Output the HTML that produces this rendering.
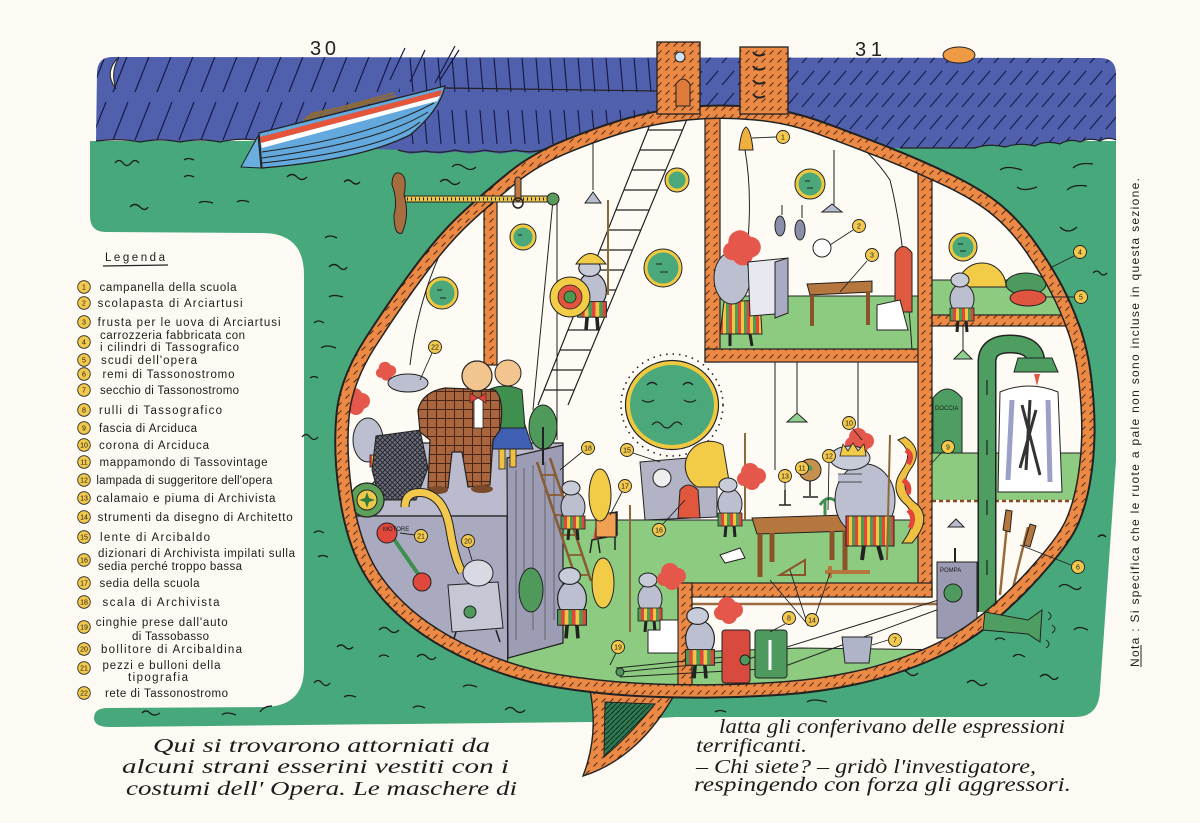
<!DOCTYPE html>
<html><head><meta charset="utf-8">
<style>
html,body{margin:0;padding:0;background:#fcfaf3;}
svg{display:block}
.lg{font-family:"Liberation Sans",sans-serif;font-size:11.5px;fill:#1c1c1c}
.cur{font-family:"Liberation Serif",serif;font-style:italic;font-size:20.5px;fill:#1c1c1c}
.num{font-family:"Liberation Sans",sans-serif;font-size:7px;fill:#1c1c1c;text-anchor:middle}
.tiny{font-family:"Liberation Sans",sans-serif;font-size:6px;fill:#1c1c1c}
</style></head><body>
<svg width="1200" height="823" viewBox="0 0 1200 823" xmlns="http://www.w3.org/2000/svg">
<defs>
<path id="hull" d="M336.5,414 Q340,378 365,339 Q390,300 415,266.5 Q440,233 463.5,211.5 Q487,190 510,171.5 Q533,153 566.5,139.5 Q600,126 628.5,118 Q657,110 688.5,107 Q720,104 754,107 Q788,110 816.5,120 Q845,130 883,145 Q921,160 952,175 Q983,190 1002,206 Q1021,222 1036.5,244.5 Q1052,267 1062,286 Q1072,305 1080,327.5 Q1088,350 1091.5,380 Q1095,410 1094.5,435 Q1094,460 1090,482.5 Q1086,505 1079,522 Q1072,540 1047.5,568 Q1023,597 993,622 Q963,647 926.5,662 Q890,677 855,684.5 Q820,692 785,694.5 Q750,697 713.5,697.5 Q677,698 637,696 Q597,694 555,687 Q513,680 471.5,661.5 Q430,643 401.5,618 Q373,593 359,564 Q345,535 339,492.5 Q333,450 336.5,414 Z"/>
<clipPath id="hc"><path d="M336.5,414 Q340,378 365,339 Q390,300 415,266.5 Q440,233 463.5,211.5 Q487,190 510,171.5 Q533,153 566.5,139.5 Q600,126 628.5,118 Q657,110 688.5,107 Q720,104 754,107 Q788,110 816.5,120 Q845,130 883,145 Q921,160 952,175 Q983,190 1002,206 Q1021,222 1036.5,244.5 Q1052,267 1062,286 Q1072,305 1080,327.5 Q1088,350 1091.5,380 Q1095,410 1094.5,435 Q1094,460 1090,482.5 Q1086,505 1079,522 Q1072,540 1047.5,568 Q1023,597 993,622 Q963,647 926.5,662 Q890,677 855,684.5 Q820,692 785,694.5 Q750,697 713.5,697.5 Q677,698 637,696 Q597,694 555,687 Q513,680 471.5,661.5 Q430,643 401.5,618 Q373,593 359,564 Q345,535 339,492.5 Q333,450 336.5,414 Z"/></clipPath>
<clipPath id="sc"><path d="M97,72 Q98,57 112,57 L1100,58 Q1116,58 1116,74 L1116,140 Q1108,136 1100,141 Q1090,137 1080,142 Q1070,138 1060,144 Q1045,140 1035,146 Q1020,142 1005,147 Q990,143 975,148 L900,148 L560,153 Q545,149 530,154 Q515,150 500,154 Q485,150 470,154 Q455,150 440,154 Q425,151 410,154 L398,150 L300,146 L262,141 Q240,137 220,142 Q200,138 180,142 Q160,138 140,142 Q120,138 96,141 Z"/></clipPath>
<pattern id="hp" width="8" height="8" patternUnits="userSpaceOnUse"><rect width="8" height="8" fill="#ec8a45"/><path d="M1.5,6.5 L5.5,2.5" stroke="#4a2a15" stroke-width="1"/></pattern>
<pattern id="r1" width="22" height="48" patternUnits="userSpaceOnUse"><path d="M3,44 L18,6" stroke="#161a45" stroke-width="1.2"/></pattern>
<pattern id="r2" width="14" height="52" patternUnits="userSpaceOnUse"><path d="M4,6 L7,40" stroke="#161a45" stroke-width="1.2"/></pattern>
<pattern id="r3" width="16" height="22" patternUnits="userSpaceOnUse"><path d="M2,19 L14,5" stroke="#161a45" stroke-width="1.1"/></pattern>
<pattern id="pl" width="9" height="9" patternUnits="userSpaceOnUse"><rect width="9" height="9" fill="#a9653d"/><path d="M0,4.5 H9 M4.5,0 V9" stroke="#4a2414" stroke-width="1"/></pattern>
<pattern id="nt" width="5" height="5" patternUnits="userSpaceOnUse"><rect width="5" height="5" fill="#6b6d80"/><path d="M0,0 L5,5 M5,0 L0,5" stroke="#222" stroke-width="0.9"/></pattern>
<pattern id="sk" width="9" height="20" patternUnits="userSpaceOnUse"><rect width="3" height="20" fill="#e0473a"/><rect x="3" width="3" height="20" fill="#f2c640"/><rect x="6" width="3" height="20" fill="#4d9b52"/></pattern>
<pattern id="kg" width="5" height="5" patternUnits="userSpaceOnUse"><rect width="5" height="5" fill="#2f7a52"/><path d="M0,5 L5,0" stroke="#10301f" stroke-width="1"/></pattern>
<g id="kn">
<path d="M-4,20 L-5,32 M4,20 L5,32" stroke="#222" stroke-width="3"/>
<ellipse cx="0" cy="-1" rx="12" ry="15" fill="#bcbfcf" stroke="#222" stroke-width="1"/>
<rect x="-12" y="8" width="24" height="13" fill="url(#sk)" stroke="#222" stroke-width="0.8"/>
<ellipse cx="-2" cy="-20" rx="9" ry="7" fill="#c8cbd8" stroke="#222" stroke-width="1"/>
</g>
<g id="rh" fill="#e5574a"><circle cx="0" cy="0" r="9"/><circle cx="8" cy="4" r="8"/><circle cx="2" cy="10" r="8"/><circle cx="-6" cy="7" r="7"/></g>
</defs>

<rect width="1200" height="823" fill="#fcfaf3"/>

<!-- water -->
<path d="M90,141 L1116,141 L1116,460 L1100,690 Q1099,717 1075,717 L676,717 L593,722 L110,727 Q94,727 94,718 Q94,708 108,708 L265,707 Q304,706 304,668 L304,275 Q304,233 262,233 L106,232 Q90,232 90,216 Z" fill="#47a97b"/>

<!-- sky -->
<g clip-path="url(#sc)">
<rect x="90" y="50" width="1030" height="110" fill="#5160ad"/>
<rect x="90" y="50" width="310" height="110" fill="url(#r1)"/>
<rect x="400" y="50" width="300" height="110" fill="url(#r2)"/>
<rect x="700" y="50" width="420" height="110" fill="url(#r3)"/>
</g>
<path d="M96,141 Q120,138 140,142 Q160,138 180,142 Q200,138 220,142 Q240,137 262,141 M398,150 Q410,154 425,151 Q440,154 455,150 Q470,154 485,150 Q500,154 515,150 Q530,154 545,149 Q555,152 565,152 M900,148 L975,148 Q990,143 1005,147 Q1020,142 1035,146 Q1045,140 1060,144 Q1070,138 1080,142 Q1090,137 1100,141 Q1108,136 1116,140" fill="none" stroke="#222" stroke-width="1.2"/>
<path d="M390,80 L405,48 M410,82 L425,50 M435,83 L455,46 M440,80 L459,50" stroke="#161a45" stroke-width="1.2"/>
<!-- moon, sun -->
<path d="M119,57 Q103,72 116,89 Q110,72 119,57 Z" fill="#fcfaf3" stroke="#222" stroke-width="1"/>
<ellipse cx="959" cy="55" rx="16" ry="8" fill="#ef9a45" stroke="#222" stroke-width="1"/>

<!-- waves -->
<g fill="none" stroke="#1c1c1c" stroke-width="1.3">
<path d="M115,163 q4,-5 8,0 t8,0 t8,0"/><path d="M184,160 q4,-3 10,0"/><path d="M184,177 q4,-3 10,0"/><path d="M287,177 q5,-5 10,0 t10,0"/>
<path d="M344,182 q4,-4 8,0 t8,0"/><path d="M130,207 q5,-5 10,0 t8,0"/><path d="M199,203 q4,-3 14,0"/><path d="M237,202 q4,-3 12,0"/>
<path d="M325,238 q4,-4 12,0"/><path d="M329,267 q5,-5 10,0 t8,0"/><path d="M329,297 q4,-3 14,0"/><path d="M314,323 q4,-4 10,0"/>
<path d="M321,348 q5,-4 15,0"/><path d="M310,378 q4,-3 8,0"/><path d="M440,182 q5,-5 10,0 t10,0"/><path d="M452,167 q5,-5 12,0 t12,0"/>
<path d="M302,437 q4,-5 8,0 t8,0"/><path d="M314,533 q4,-4 10,0"/><path d="M318,557 q4,-3 10,0"/><path d="M379,630 q5,-5 10,0 t10,0"/>
<path d="M337,647 q4,-4 8,0 t8,0"/><path d="M379,657 q4,-4 10,0"/><path d="M417,657 q5,-5 10,0 t9,0"/><path d="M314,683 q4,-5 8,0 t8,0"/>
<path d="M344,697 q4,-3 12,0"/><path d="M463,687 q4,-4 14,0"/><path d="M413,708 q4,-4 12,0"/><path d="M505,710 q5,-5 10,0 t10,0"/>
<path d="M142,713 q4,-4 8,0 t10,0"/><path d="M222,715 q4,-4 14,0"/><path d="M260,712 q4,-6 12,-6"/><path d="M898,673 q5,-5 10,0 t10,0"/>
<path d="M967,683 q5,-5 10,0 t10,0"/><path d="M1040,677 q5,-5 10,0 t8,0"/><path d="M1074,630 q4,-5 14,0"/><path d="M995,640 q4,-4 10,0"/>
<path d="M807,702 q5,-4 20,0"/><path d="M715,712 q4,-3 11,0"/><path d="M1013,657 q4,-5 12,0"/><path d="M1059,587 q5,-5 12,0 t10,0"/>
<path d="M1000,170 q6,-5 22,0"/><path d="M1017,187 q6,5 20,0"/><path d="M1073,168 q6,-6 20,-4"/><path d="M1067,190 q6,-6 20,-4"/>
<path d="M1060,227 q8,8 17,0"/><path d="M1093,273 q4,-4 7,0 t7,0"/><path d="M1098,537 q4,-4 8,0"/>
</g>

<!-- boat -->
<path d="M241,167 L258,136 L261,168 Z" fill="#6aaee0" stroke="#222" stroke-width="1"/>
<path d="M259,133 L445,86 Q440,110 410,135 Q360,160 262,168 Z" fill="#63a9dd" stroke="#222" stroke-width="1.3"/>
<path d="M260,137 L442,90 L440,96 L261,143 Z" fill="#e5553a"/>
<path d="M261,143 L440,96 L437,101 L262,148 Z" fill="#ffffff"/>
<path d="M262,152 Q370,137 434,103 M262,158 Q380,142 428,112 M262,163 Q385,150 420,122" fill="none" stroke="#222" stroke-width="1"/>
<path d="M306,117 L394,93 M310,114 L396,96 M303,120 L388,98" stroke="#8a6a3a" stroke-width="2"/>
<path d="M445,88 L657,91" stroke="#222" stroke-width="1.2"/>

<!-- keel -->
<path d="M590,690 Q599,735 583,776 Q640,758 677,690 Z" fill="url(#hp)" stroke="#222" stroke-width="1.4"/>
<path d="M605,702 L655,704 Q630,735 604,757 Z" fill="url(#kg)" stroke="#222" stroke-width="1"/>

<!-- hull interior -->
<use href="#hull" fill="#fdfbf4"/>
<g clip-path="url(#hc)">
<path d="M330,522 L417,443 L563,443 L563,516 L330,516 Z" fill="#bbbbcd" stroke="#222" stroke-width="1.2"/>
<path d="M320,516 L507,516 L508,720 L320,720 Z" fill="#a9a9bf" stroke="#222" stroke-width="1.2"/>
<path d="M563,520 L918,520 L918,590 L680,590 L680,720 L500,720 L508,658 L563,643 Z" fill="#8dcb80" stroke="#222" stroke-width="1"/>
<path d="M507,458 L563,445 L563,643 L508,658 Z" fill="#9c9cb5" stroke="#222" stroke-width="1.2"/>
<path d="M516,470 L516,640 M524,468 L524,600 M533,465 L533,630 M545,462 L545,640 M554,470 L554,620" stroke="#555" stroke-width="0.8"/>
<rect x="718" y="296" width="202" height="56" fill="#8dcb80"/>
<rect x="930" y="280" width="170" height="37" fill="#8dcb80"/>
<rect x="930" y="453" width="170" height="47" fill="#8dcb80"/>
<path d="M690,652 L800,648 L960,650 L960,720 L690,720 Z" fill="#8dcb80"/>
<path d="M720,296 H918 M932,280 H1100 M932,453 H1100 M692,652 L800,648 L960,650" stroke="#222" stroke-width="1" fill="none"/>
<path d="M932,501 H1100" stroke="#8a4a20" stroke-width="2.5" stroke-dasharray="4 3"/>
<path d="M692,604 H940" stroke="#9a6a40" stroke-width="2.5"/>
<g fill="url(#hp)" stroke="#222" stroke-width="1.2">
<rect x="705" y="95" width="15" height="267"/>
<rect x="705" y="349" width="227" height="13"/>
<rect x="918" y="140" width="14" height="457"/>
<rect x="932" y="315" width="170" height="11"/>
<rect x="678" y="583" width="254" height="14"/>
<rect x="678" y="583" width="14" height="130"/>
<rect x="484" y="195" width="13" height="170"/>
</g>

<g stroke-width="3" stroke="#f0c93f" fill="#4aa87a">
<circle cx="523" cy="237" r="11"/><circle cx="442" cy="293" r="14"/><circle cx="663" cy="268" r="17"/>
<circle cx="677" cy="180" r="10"/><circle cx="810" cy="184" r="13"/><circle cx="963" cy="247" r="12"/>
</g>
<g fill="none" stroke="#222" stroke-width="1">
<circle cx="523" cy="237" r="13"/><circle cx="442" cy="293" r="16"/><circle cx="663" cy="268" r="19"/>
<circle cx="677" cy="180" r="12"/><circle cx="810" cy="184" r="15"/><circle cx="963" cy="247" r="14"/>
<path d="M518,235 h4 M437,290 h5 M440,298 h6 M656,264 h6 M660,272 h8 M805,181 h5 M807,188 h6 M958,244 h5 M960,251 h6"/>
</g>
<circle cx="672" cy="405" r="51" fill="none" stroke="#222" stroke-width="1.6" stroke-dasharray="1.5 5"/>
<ellipse cx="672" cy="405" rx="44" ry="42" fill="#4aa87a" stroke="#f0c93f" stroke-width="4"/>
<ellipse cx="672" cy="405" rx="46.5" ry="44.5" fill="none" stroke="#222" stroke-width="1.2"/>
<path d="M647,385 q5,-5 10,0 M683,385 q5,-5 10,0 M642,400 q6,4 12,0 M684,400 q6,4 12,0 M652,425 q5,-6 10,0 t10,0 t10,0" fill="none" stroke="#222" stroke-width="1.3"/>

<g stroke="#222" stroke-width="1.2" fill="none">
<path d="M655,112 L538,405 M690,112 L568,405"/>
<path d="M647.8,130 H682.5 M639.8,150 H674.2 M631.8,170 H665.8 M623.9,190 H657.5 M615.9,210 H649.2 M607.9,230 H640.9 M599.9,250 H632.5 M591.9,270 H624.2 M583.9,290 H615.9 M575.9,310 H607.5 M567.9,330 H599.2 M560,350 H590.9 M552,370 H582.6 M544,390 H574.2"/>
</g>
<g stroke="#222" stroke-width="1" fill="none">
<path d="M553,200 L533,410 M557,202 L557,440 M463,210 Q420,280 410,365"/>
<path d="M593,140 V190 M834,150 V205 M745,150 Q752,190 748,240 M830,120 Q870,150 890,180 Q905,240 912,350"/>
<path d="M775,362 V470 M858,362 V455 M797,362 V413 M963,326 V350"/>
<path d="M620,672 L745,660 L945,598 M620,677 L780,668 L950,605 M616,668 L745,655"/>
</g>
<g stroke="#222" stroke-width="1">
<path d="M585,203 L593,192 L601,203 Z" fill="#b8bccf"/>
<path d="M822,212 L832,204 L842,212 Z" fill="#b8bccf"/>
<path d="M787,422 L797,413 L807,422 Z" fill="#8fcf90"/>
<path d="M954,359 L963,350 L972,359 Z" fill="#8fcf90"/>
<path d="M948,527 L956,519 L964,527 Z" fill="#b8bccf"/>
</g>

<use href="#rh" transform="translate(354,397)"/>
<use href="#rh" transform="translate(385,368) scale(0.7)"/>
<ellipse cx="408" cy="383" rx="20" ry="9" fill="#bcbfcf" stroke="#222" stroke-width="1"/>
<ellipse cx="368" cy="440" rx="15" ry="22" fill="#bcbfcf" stroke="#222" stroke-width="1"/>
<rect x="370" y="455" width="24" height="12" fill="url(#sk)" stroke="#222" stroke-width="0.8"/>
<path d="M376,436 L420,430 L428,468 L416,500 L380,500 L372,470 Z" fill="url(#nt)" stroke="#222" stroke-width="1"/>
<circle cx="367" cy="500" r="17" fill="#5da05a" stroke="#222" stroke-width="1.2"/>
<circle cx="367" cy="500" r="10" fill="#ecc94a" stroke="#222" stroke-width="1"/>
<path d="M367,492 L369,498 L375,500 L369,502 L367,508 L365,502 L359,500 L365,498 Z" fill="#2f7a3e"/>
<rect x="499" y="447" width="6" height="22" fill="#f0c040" stroke="#222" stroke-width="0.8"/>
<rect x="510" y="447" width="6" height="20" fill="#f0c040" stroke="#222" stroke-width="0.8"/>
<path d="M490,425 L525,425 L533,449 L484,449 Z" fill="#3e5fb2" stroke="#222"/>
<path d="M488,390 Q505,382 522,390 L525,428 L490,428 Z" fill="#3f8f4f" stroke="#222"/>
<circle cx="508" cy="373" r="13" fill="#f3c58e" stroke="#222"/>
<path d="M418,410 Q422,392 445,388 L495,390 Q505,400 500,430 L493,440 L490,485 L468,487 L462,452 L452,452 L448,488 L428,488 L430,440 L420,432 Z" fill="url(#pl)" stroke="#222" stroke-width="1.2"/>
<rect x="474" y="398" width="9" height="30" fill="#fff" stroke="#222" stroke-width="0.8"/>
<path d="M470,393 L478,398 L470,403 Z M486,393 L478,398 L486,403 Z" fill="#e0403a" stroke="#222" stroke-width="0.6"/>
<circle cx="477" cy="376" r="15" fill="#f3c58e" stroke="#222" stroke-width="1.2"/>
<ellipse cx="438" cy="490" rx="10" ry="4" fill="#7a4a2a"/><ellipse cx="482" cy="489" rx="11" ry="4" fill="#7a4a2a"/>
<ellipse cx="543" cy="427" rx="14" ry="22" fill="#4f9a5a" stroke="#222"/>
<path d="M543,427 V465" stroke="#222" stroke-width="2"/>
<ellipse cx="531" cy="590" rx="12" ry="22" fill="#4f9a5a" stroke="#222"/>
<path d="M405,507 Q405,490 425,493 Q445,498 450,530 Q455,560 462,572" fill="none" stroke="#222" stroke-width="9"/>
<path d="M405,507 Q405,490 425,493 Q445,498 450,530 Q455,560 462,572" fill="none" stroke="#f2c94c" stroke-width="7"/>
<path d="M389,532 L423,581" stroke="#3f8f4f" stroke-width="4"/>
<circle cx="387" cy="533" r="10" fill="#e0483e" stroke="#222"/><circle cx="422" cy="582" r="9" fill="#e0483e" stroke="#222"/>
<text class="tiny" x="383" y="531">MOTORE</text>
<path d="M448,585 L498,582 L503,628 L452,632 Z" fill="#c5c7d4" stroke="#222"/>
<path d="M456,632 L452,645 M496,630 L500,642" stroke="#222" stroke-width="1.5"/>
<ellipse cx="478" cy="573" rx="15" ry="13" fill="#d7d9e3" stroke="#222"/>
<circle cx="470" cy="612" r="6" fill="#4f9a5a" stroke="#222"/>
<use href="#kn" transform="translate(592,292) scale(1.2)"/>
<path d="M576,264 Q590,243 606,264 Z" fill="#f2cb47" stroke="#222"/>
<path d="M608,200 V295" stroke="#8a6a3a" stroke-width="2"/>
<circle cx="570" cy="297" r="20" fill="#f2cd45" stroke="#222"/>
<circle cx="570" cy="297" r="12" fill="#e2543d" stroke="#222" stroke-width="0.8"/>
<circle cx="570" cy="297" r="6" fill="#4a9a50" stroke="#222" stroke-width="0.8"/>
<g stroke="#8a5a30" stroke-width="2.5">
<path d="M537,462 L578,585 M550,458 L591,581"/>
<path d="M541.3,475 H555.7 M548,495 H562.3 M554.7,515 H569 M561.3,535 H575.7 M568,555 H582.3 M574.7,575 H589" stroke-width="1.8"/>
</g>
<path d="M640,462 L700,457 L717,470 L717,517 L645,520 Z" fill="#b3b3c6" stroke="#222"/>
<circle cx="662" cy="478" r="9" fill="#eee" stroke="#222"/>
<path d="M697,487 A24,24 0 0 1 723,445 L730,487 Z" fill="#f2cb47" stroke="#222"/>
<path d="M598,515 L617,512 L617,535 L592,540 L590,553 M598,540 L600,553 M615,535 L615,550" fill="#e0573e" stroke="#222" stroke-width="1.5"/>
<rect x="596" y="513" width="20" height="24" fill="#f0a050" stroke="#222"/>
<path d="M680,490 Q688,480 698,490 L700,518 L678,518 Z" fill="#e0573e" stroke="#222"/>
<use href="#kn" transform="translate(573,508)"/>
<ellipse cx="600" cy="495" rx="11" ry="26" fill="#f2cb47" stroke="#222"/>
<use href="#kn" transform="translate(572,600) scale(1.2)"/>
<ellipse cx="603" cy="583" rx="11" ry="25" fill="#f2cb47" stroke="#222"/>
<use href="#kn" transform="translate(650,600)"/>
<use href="#rh" transform="translate(670,572)"/>
<path d="M630,505 V632 M745,433 V520" stroke="#8a6a3a" stroke-width="2"/>
<use href="#kn" transform="translate(730,505)"/>
<use href="#rh" transform="translate(750,472)"/>
<use href="#kn" transform="translate(700,640) scale(1.2)"/>
<use href="#rh" transform="translate(727,606)"/>
<rect x="722" y="630" width="28" height="53" rx="3" fill="#d84a3e" stroke="#222"/>
<rect x="755" y="630" width="32" height="48" rx="3" fill="#4e9a5e" stroke="#222"/>
<path d="M770,640 V670" stroke="#fff" stroke-width="3"/>
<path d="M842,637 L872,637 L869,663 L845,663 Z" fill="#b0b4c8" stroke="#222"/>
<circle cx="745" cy="660" r="5" fill="#4e9a5e" stroke="#222"/><circle cx="620" cy="672" r="4" fill="#4e9a5e" stroke="#222"/>
<path d="M648,653 L648,630 L660,630 L660,620 L678,620 L678,653 Z" fill="#fff" stroke="#222"/>
<path d="M752,518 L845,515 L850,531 L757,534 Z" fill="#b5773d" stroke="#222"/>
<path d="M760,534 V577 M845,531 V572 M772,533 V562 M832,531 V560" stroke="#8a5428" stroke-width="5"/>
<circle cx="810" cy="470" r="11" fill="#c8904e" stroke="#222"/>
<path d="M805,466 q5,-4 8,3 q-3,5 -8,-3" fill="#4e9a5e"/>
<path d="M810,481 V496 M803,497 H818" stroke="#222" stroke-width="1.5"/>
<path d="M820,505 q8,-12 18,-2 M825,500 V515" stroke="#3f8f4f" stroke-width="3" fill="none"/>
<path d="M785,490 V505 M779,505 H791" stroke="#222" stroke-width="1.5"/>
<path d="M780,575 L805,560 L805,575 Z" fill="none" stroke="#8a5428" stroke-width="2"/>
<path d="M825,572 H870 M830,566 V578" stroke="#b5773d" stroke-width="4"/>
<path d="M720,555 L740,548 L745,558 L725,563 Z" fill="#fff" stroke="#222"/>
<path d="M864,545 L862,560 M878,545 L882,560" stroke="#222" stroke-width="4"/>
<ellipse cx="865" cy="500" rx="30" ry="36" fill="#bcbfcf" stroke="#222"/>
<rect x="846" y="516" width="48" height="30" fill="url(#sk)" stroke="#222"/>
<path d="M838,478 H862" stroke="#bcbfcf" stroke-width="7"/>
<path d="M838,474 H862 M838,482 H862" stroke="#222" stroke-width="0.8"/>
<use href="#rh" transform="translate(858,437)"/>
<ellipse cx="850" cy="458" rx="20" ry="12" fill="#c8cbd8" stroke="#222"/>
<path d="M840,456 L843,444 L848,451 L853,443 L858,451 L864,444 L866,456 Z" fill="#f2cb47" stroke="#222" stroke-width="0.8"/>
<path d="M890,435 L887,560" stroke="#8a6a3a" stroke-width="2"/>
<path d="M905,437 Q925,450 910,470 Q897,490 918,505 Q932,520 912,543 L902,543 Q920,520 906,505 Q888,490 902,470 Q915,452 898,440 Z" fill="#f0c040" stroke="#222"/>
<path d="M906,450 q8,5 2,14 M903,480 q8,5 5,14 M908,510 q8,6 2,18" stroke="#e0473a" stroke-width="5" fill="none"/>
<path d="M724,302 L760,300 L762,334 L720,334 Z" fill="url(#sk)" stroke="#222"/>
<path d="M730,334 L730,346 M750,334 L752,346" stroke="#222" stroke-width="3"/>
<ellipse cx="732" cy="278" rx="18" ry="26" fill="#bcbfcf" stroke="#222"/>
<use href="#rh" transform="translate(740,242) scale(1.3)"/>
<path d="M748,262 L788,258 L788,313 L750,316 Z" fill="#e8e8f0" stroke="#222"/>
<path d="M775,262 L788,258 L788,313 L775,318 Z" fill="#a9abc2" stroke="#222"/>
<ellipse cx="780" cy="226" rx="5" ry="10" fill="#8a8ea8" stroke="#222"/><ellipse cx="800" cy="230" rx="5" ry="10" fill="#8a8ea8" stroke="#222"/>
<path d="M782,215 V205 M802,218 V205" stroke="#222"/>
<circle cx="822" cy="248" r="9" fill="#fff" stroke="#222"/>
<path d="M807,284 L872,281 L872,292 L810,295 Z" fill="#b5773d" stroke="#222"/>
<path d="M812,295 V326 M868,292 V325" stroke="#8a5428" stroke-width="4"/>
<path d="M895,312 L895,253 Q903,240 912,253 L912,312 Z" fill="#e05a40" stroke="#222"/>
<path d="M877,330 L877,305 L900,300 L908,330 Z" fill="#fff" stroke="#222"/>
<path d="M739,150 Q741,130 746,127 Q751,130 753,150 Z" fill="#f0b040" stroke="#222"/>
<path d="M958,287 A24,24 0 0 1 1006,287 Z" fill="#f2cb47" stroke="#222"/>
<ellipse cx="1026" cy="284" rx="20" ry="11" fill="#4e9a5e" stroke="#222"/>
<ellipse cx="1028" cy="298" rx="18" ry="8" fill="#e0553e" stroke="#222"/>
<use href="#kn" transform="translate(962,300)"/>
<path d="M933,453 L933,398 Q947,380 962,398 L962,453 Z" fill="#4e9e62" stroke="#222"/>
<text class="tiny" x="935" y="410" font-size="5">DOCCIA</text>
<path d="M1000,392 Q1029,380 1058,392 L1062,492 L998,492 Z" fill="#fff" stroke="#222"/>
<path d="M1012,400 L1008,480 M1048,400 L1050,482" stroke="#9aa0c6" stroke-width="5"/>
<path d="M1022,405 L1040,475 M1030,400 L1026,470 M1036,410 L1020,468" stroke="#333" stroke-width="3"/>
<path d="M1034,374 L1040,374 L1037,386 Z" fill="#e05a40"/>
<rect x="937" y="562" width="40" height="76" fill="#9a9ab2" stroke="#222"/>
<text class="tiny" x="940" y="572" font-size="5">POMPA</text>
<circle cx="953" cy="593" r="9" fill="#4e9a5e" stroke="#222"/>
<path d="M955,562 V548" stroke="#222" stroke-width="2"/>
<path d="M987,612 L987,362 Q987,344 1010,344 Q1035,344 1036,362" fill="none" stroke="#222" stroke-width="19"/>
<path d="M987,612 L987,362 Q987,344 1010,344 Q1035,344 1036,362" fill="none" stroke="#4e9e62" stroke-width="16"/>
<path d="M1018,358 L1052,358 L1058,372 L1014,372 Z" fill="#4e9e62" stroke="#222"/>
<path d="M987,380 V395 M987,440 V455 M987,500 V515 M987,560 V575" stroke="#222" stroke-width="1.2"/>
<path d="M1000,595 L1008,515 M1012,592 L1028,527" stroke="#9a6a3a" stroke-width="2.5"/>
<path d="M1003,530 L1006,510 L1012,511 L1010,532 Z M1024,545 L1030,524 L1036,526 L1030,547 Z" fill="#b5773d" stroke="#222"/>
</g>

<!-- hull band -->
<g clip-path="url(#hc)">
<use href="#hull" fill="none" stroke="#222" stroke-width="27"/>
<use href="#hull" fill="none" stroke="url(#hp)" stroke-width="24"/>
</g>
<use href="#hull" fill="none" stroke="#222" stroke-width="2"/>

<path d="M985,612 L1028,620 L1042,610 L1040,642 L1028,634 L983,630 Z" fill="#4e9e62" stroke="#222"/>
<path d="M1048,612 q6,4 0,8 M1052,625 q6,4 0,8 M1046,640 q6,4 0,8" stroke="#222" fill="none"/>

<rect x="657" y="42" width="43" height="72" fill="url(#hp)" stroke="#222" stroke-width="1.3"/>
<path d="M676,106 L676,84 Q683,74 690,84 L690,106 Z" fill="#e07a3a" stroke="#222"/>
<circle cx="680" cy="57" r="5" fill="#cfe0f0" stroke="#222"/>
<rect x="740" y="47" width="48" height="67" fill="url(#hp)" stroke="#222" stroke-width="1.3"/>
<path d="M753,52 q4,6 12,2 M753,66 q4,6 12,2 M753,80 q4,6 12,2 M753,94 q4,6 12,2" stroke="#222" stroke-width="2" fill="none"/>

<rect x="405" y="196" width="148" height="6" fill="#f0c94a" stroke="#222"/>
<path d="M407,199 H550" stroke="#222" stroke-width="3" stroke-dasharray="1 3"/>
<circle cx="553" cy="199" r="6" fill="#5a9a5a" stroke="#222"/>
<path d="M399,173 Q408,175 404,195 Q410,215 402,233 Q394,236 394,215 Q398,200 392,185 Q392,172 399,173 Z" fill="#a86d3e" stroke="#222"/>
<rect x="515" y="177" width="6" height="24" rx="3" fill="#c07840" stroke="#222"/>
<circle cx="518" cy="203" r="5" fill="none" stroke="#222" stroke-width="1.5"/>

<g stroke="#222" stroke-width="0.9" fill="none">
<path d="M776,137 L752,138 M853,230 L830,245 M867,261 L840,292 M1074,256 L1050,268 M1074,297 L1045,297 M1071,565 L1020,545 M888,640 L872,645 M785,624 L770,632 M942,452 L930,465 M853,429 L862,440 M829,462 L828,510 M785,482 L785,492 M808,626 L790,570 M812,626 L830,573 M809,626 L770,580 M633,453 L660,462 M663,524 L685,500 M622,492 L610,515 M582,452 L560,470 M616,653 L610,665 M468,547 L472,560 M415,535 L400,533 M432,353 L420,380"/>
</g>
<g fill="#f2c94c" stroke="#222" stroke-width="0.9">
<circle cx="783" cy="137" r="6.5"/><circle cx="859" cy="226" r="6.5"/><circle cx="872" cy="255" r="6.5"/><circle cx="1080" cy="252" r="6.5"/><circle cx="1081" cy="297" r="6.5"/>
<circle cx="1078" cy="567" r="6.5"/><circle cx="895" cy="640" r="6.5"/><circle cx="789" cy="618" r="6.5"/><circle cx="948" cy="447" r="6.5"/><circle cx="849" cy="423" r="6.5"/>
<circle cx="802" cy="468" r="6.5"/><circle cx="829" cy="456" r="6.5"/><circle cx="785" cy="476" r="6.5"/><circle cx="812" cy="620" r="6.5"/><circle cx="627" cy="450" r="6.5"/>
<circle cx="659" cy="530" r="6.5"/><circle cx="625" cy="486" r="6.5"/><circle cx="588" cy="448" r="6.5"/><circle cx="618" cy="647" r="6.5"/><circle cx="468" cy="541" r="6.5"/>
<circle cx="421" cy="536" r="6.5"/><circle cx="435" cy="347" r="6.5"/>
</g>
<g>
<text class="num" x="783" y="139.5">1</text><text class="num" x="859" y="228.5">2</text><text class="num" x="872" y="257.5">3</text><text class="num" x="1080" y="254.5">4</text><text class="num" x="1081" y="299.5">5</text>
<text class="num" x="1078" y="569.5">6</text><text class="num" x="895" y="642.5">7</text><text class="num" x="789" y="620.5">8</text><text class="num" x="948" y="449.5">9</text><text class="num" x="849" y="425.5">10</text>
<text class="num" x="802" y="470.5">11</text><text class="num" x="829" y="458.5">12</text><text class="num" x="785" y="478.5">13</text><text class="num" x="812" y="622.5">14</text><text class="num" x="627" y="452.5">15</text>
<text class="num" x="659" y="532.5">16</text><text class="num" x="625" y="488.5">17</text><text class="num" x="588" y="450.5">18</text><text class="num" x="618" y="649.5">19</text><text class="num" x="468" y="543.5">20</text>
<text class="num" x="421" y="538.5">21</text><text class="num" x="435" y="349.5">22</text>
</g>

<text x="310" y="55" font-family="Liberation Sans, sans-serif" font-size="20" fill="#222" textLength="26">30</text>
<text x="855" y="56" font-family="Liberation Sans, sans-serif" font-size="20" fill="#222" textLength="27">31</text>

<text class="lg" x="105" y="261" font-size="15" textLength="60">Legenda</text>
<path d="M103,266 L168,265" stroke="#222" stroke-width="1.2"/>
<g fill="#f2c94c" stroke="#222" stroke-width="0.8">
<circle cx="84" cy="287" r="6.3"/><circle cx="84" cy="303" r="6.3"/><circle cx="84" cy="322" r="6.3"/><circle cx="84" cy="342" r="6.3"/><circle cx="84" cy="360" r="6.3"/>
<circle cx="84" cy="374" r="6.3"/><circle cx="84" cy="390" r="6.3"/><circle cx="84" cy="410" r="6.3"/><circle cx="84" cy="428" r="6.3"/><circle cx="84" cy="445" r="6.3"/>
<circle cx="84" cy="462" r="6.3"/><circle cx="84" cy="480" r="6.3"/><circle cx="84" cy="498" r="6.3"/><circle cx="84" cy="517" r="6.3"/><circle cx="84" cy="537" r="6.3"/>
<circle cx="84" cy="560" r="6.3"/><circle cx="84" cy="583" r="6.3"/><circle cx="84" cy="602" r="6.3"/><circle cx="84" cy="627" r="6.3"/><circle cx="84" cy="649" r="6.3"/>
<circle cx="84" cy="668" r="6.3"/><circle cx="84" cy="693" r="6.3"/>
</g>
<g>
<text class="num" x="84" y="289.5">1</text><text class="num" x="84" y="305.5">2</text><text class="num" x="84" y="324.5">3</text><text class="num" x="84" y="344.5">4</text><text class="num" x="84" y="362.5">5</text>
<text class="num" x="84" y="376.5">6</text><text class="num" x="84" y="392.5">7</text><text class="num" x="84" y="412.5">8</text><text class="num" x="84" y="430.5">9</text><text class="num" x="84" y="447.5">10</text>
<text class="num" x="84" y="464.5">11</text><text class="num" x="84" y="482.5">12</text><text class="num" x="84" y="500.5">13</text><text class="num" x="84" y="519.5">14</text><text class="num" x="84" y="539.5">15</text>
<text class="num" x="84" y="562.5">16</text><text class="num" x="84" y="585.5">17</text><text class="num" x="84" y="604.5">18</text><text class="num" x="84" y="629.5">19</text><text class="num" x="84" y="651.5">20</text>
<text class="num" x="84" y="670.5">21</text><text class="num" x="84" y="695.5">22</text>
</g>
<g>
<text class="lg" x="99.5" y="291" textLength="137">campanella della scuola</text>
<text class="lg" x="97.6" y="307" textLength="145">scolapasta di Arciartusi</text>
<text class="lg" x="97.6" y="326" textLength="183">frusta per le uova di Arciartusi</text>
<text class="lg" x="100" y="339" textLength="145">carrozzeria fabbricata con</text>
<text class="lg" x="100" y="351" textLength="139">i cilindri di Tassografico</text>
<text class="lg" x="101" y="364" textLength="96">scudi dell'opera</text>
<text class="lg" x="102.5" y="378" textLength="132">remi  di Tassonostromo</text>
<text class="lg" x="100" y="394" textLength="139">secchio di Tassonostromo</text>
<text class="lg" x="99" y="414" textLength="123">rulli di Tassografico</text>
<text class="lg" x="99" y="432" textLength="98">fascia di Arciduca</text>
<text class="lg" x="99" y="449" textLength="110">corona di Arciduca</text>
<text class="lg" x="99.5" y="466" textLength="168">mappamondo di Tassovintage</text>
<text class="lg" x="96.4" y="484" textLength="176">lampada di suggeritore dell'opera</text>
<text class="lg" x="96.4" y="502" textLength="179">calamaio e piuma di Archivista</text>
<text class="lg" x="97.6" y="521" textLength="195">strumenti da disegno di Architetto</text>
<text class="lg" x="100" y="541" textLength="110">lente di Arcibaldo</text>
<text class="lg" x="98" y="557" textLength="197">dizionari di Archivista impilati sulla</text>
<text class="lg" x="98" y="570" textLength="144">sedia perché troppo bassa</text>
<text class="lg" x="99.5" y="587" textLength="100">sedia della scuola</text>
<text class="lg" x="102.5" y="606" textLength="117">scala di Archivista</text>
<text class="lg" x="95.7" y="626" textLength="132">cinghie prese dall'auto</text>
<text class="lg" x="132" y="640" textLength="77">di Tassobasso</text>
<text class="lg" x="101" y="653" textLength="141">bollitore di Arcibaldina</text>
<text class="lg" x="102.5" y="669" textLength="118">pezzi e bulloni della</text>
<text class="lg" x="128" y="681" textLength="60">tipografia</text>
<text class="lg" x="105" y="697" textLength="123">rete di Tassonostromo</text>
</g>

<text class="cur" x="153" y="752" textLength="337" lengthAdjust="spacingAndGlyphs">Qui si trovarono attorniati da</text>
<text class="cur" x="122" y="773" textLength="387" lengthAdjust="spacingAndGlyphs">alcuni strani esserini vestiti con i</text>
<text class="cur" x="126" y="795" textLength="391" lengthAdjust="spacingAndGlyphs">costumi dell' Opera. Le maschere di</text>
<text class="cur" x="719" y="733" textLength="346" lengthAdjust="spacingAndGlyphs">latta gli conferivano delle espressioni</text>
<text class="cur" x="696" y="752" textLength="111" lengthAdjust="spacingAndGlyphs">terrificanti.</text>
<text class="cur" x="696" y="773" textLength="340" lengthAdjust="spacingAndGlyphs">– Chi siete? – gridò l'investigatore,</text>
<text class="cur" x="694" y="791" textLength="377" lengthAdjust="spacingAndGlyphs">respingendo con forza gli aggressori.</text>

<text transform="translate(1139,667) rotate(-90)" font-family="Liberation Sans, sans-serif" font-size="12" fill="#222" textLength="489" lengthAdjust="spacing">Nota : Si specifica che le ruote a pale non sono incluse in questa sezione.</text>
<path d="M1141,667 L1141,645" stroke="#222" stroke-width="1"/>
</svg>
</body></html>
